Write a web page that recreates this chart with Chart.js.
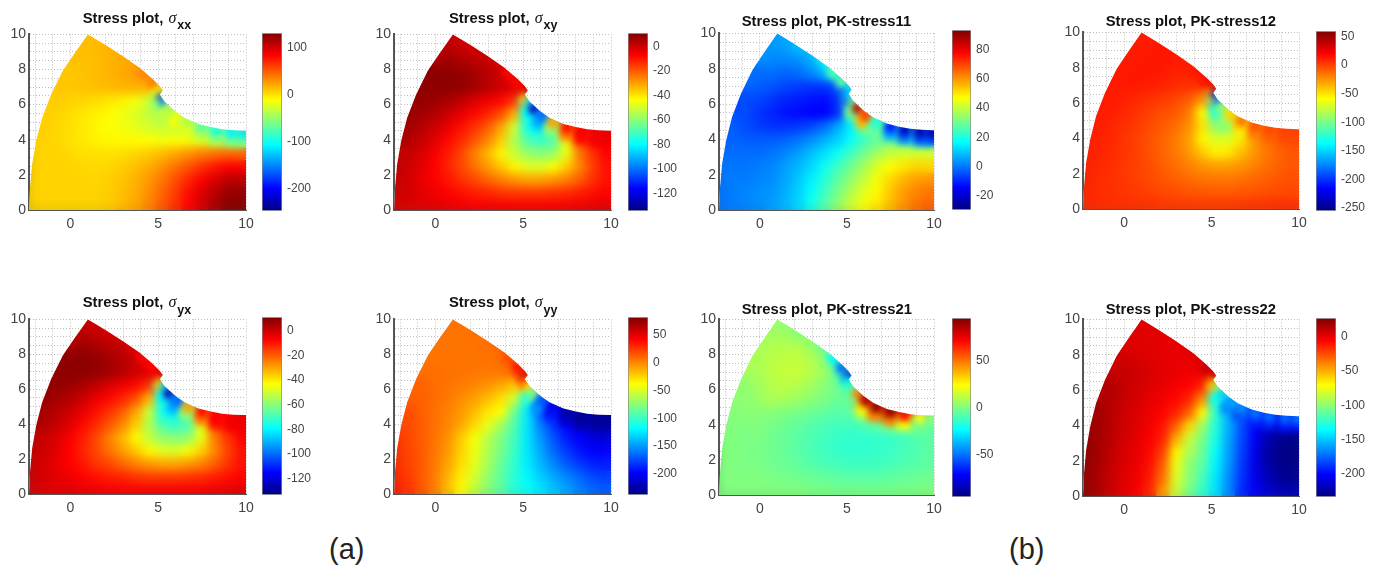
<!DOCTYPE html>
<html>
<head>
<meta charset="utf-8">
<title>Stress plots</title>
<script src="https://cdn.jsdelivr.net/npm/chart.js@4"></script>
<style>
  html, body { margin: 0; background: #fff; overflow: hidden; }
  canvas { position: absolute; }
  .ttl { position: absolute; font: bold 14.8px "Liberation Sans", Arial, sans-serif; line-height: 17px; color: #111; white-space: nowrap; }
  .ttl i { font: italic 16px "Liberation Serif", serif; margin-left: 1px; }
  .ttl sub { font: bold 12.5px "Liberation Sans", Arial, sans-serif; position: relative; top: 3px; left: 1px; vertical-align: sub; line-height: 0; }
  .cap { position: absolute; font: 29px "Liberation Sans", Arial, sans-serif; color: #222; }
</style>
</head>
<body>
<script>
// outline of the plate (x, y), shared by all eight plots
const outlineX = [-2.35,-2.29,-2.17,-1.94,-1.6,-1.09,-0.42,0.3,1,1.96,3,3.96,4.72,5.1,5.27,5.1,5.35,5.96,6.5,7.3,8,8.65,9.3,10,10];
const outlineY = [0,1.29,2.62,3.94,5.26,6.58,7.94,9,10,9.42,8.75,8.09,7.43,7.05,6.81,6.58,6.2,5.64,5.25,4.9,4.72,4.6,4.54,4.52,0];

// coarse sample positions
const gridX = [-2.25,-1.5,-0.75,0,0.75,1.5,2.25,3,3.75,4.5,5.25,6,6.75,7.5,8.25,9,9.75];
const gridY = [0.25,1,1.75,2.5,3.25,4,4.75,5.5,6.25,7,7.75,8.5,9.25,10];
const rowFirstCol = [0,0,0,0,0,1,1,2,2,3,3,4,4,4];

// fine sample positions, along the notch and the concave edge
const fineX = [4.2,4.7,5.05,4.85,4.95,5.1,5.3,5.6,6.1,6.7,7.5,8.3,9.2,9.9,5.3,5.9,6.6,7.5,8.3,9.2,9.9];
const fineY = [7.8,7.25,6.8,6.6,6.2,6.45,6.1,5.75,5.35,5.0,4.72,4.53,4.42,4.4,5.5,5.0,4.65,4.35,4.15,4.05,4.05];
const fineRadius = [8,8,5,5,5,4,4,7,8,8,8,8,8,8,8,9,10,10,10,10,10];
// inner row goes down first so the edge row stays on top
const fineOrder = [14,15,16,17,18,19,20,0,1,2,3,4,5,6,7,8,9,10,11,12,13];

// values, rows from bottom to top
const sxx = [
  [6,6,6,6,6,6,8,14,22,34,50,66,84,100,116,128,128],
  [6,6,6,6,6,6,8,13,20,32,46,62,80,96,110,122,124],
  [6,6,6,6,5,5,7,11,18,27,40,55,70,85,98,108,110],
  [6,6,6,5,4,3,5,8,13,20,30,42,54,66,76,84,86],
  [6,6,5,3,1,0,0,2,5,9,15,22,30,37,42,46,46],
  [6,4,1,-3,-6,-8,-9,-10,-12,-14,-12,-14,-20,-30,-40,-45],
  [7,5,1,-3,-8,-12,-15,-20,-26,-32,-34,-40,-55,-75,-95],
  [6,2,-2,-6,-10,-16,-24,-34,-44,-50],
  [8,6,4,2,-2,-6,-14,-30,-90],
  [10,11,13,15,17,18,15,5],
  [10,12,14,17,21,25,28],
  [12,14,17,20,25],
  [13,15,18],
  [13,14]
];
const sxxFine = [34,36,5,-20,-50,-210,-180,-40,-20,-40,-70,-95,-110,-115,-30,-15,-18,-35,-50,-62,-65];

const sxy = [
  [-1,-2,-3,-3,-4,-5,-6,-6,-6,-6,-6,-6,-6,-6,-5,-4,-3],
  [0,-1,-3,-5,-7,-9,-11,-12,-14,-15,-15,-15,-14,-13,-11,-9,-7],
  [1,-1,-4,-7,-10,-14,-17,-21,-25,-28,-30,-30,-28,-25,-20,-14,-9],
  [2,0,-3,-7,-12,-17,-23,-29,-35,-42,-47,-48,-44,-36,-26,-16,-9],
  [2,1,-2,-6,-11,-17,-25,-33,-42,-51,-58,-60,-58,-46,-24,-14,-7],
  [4,1,-3,-8,-13,-19,-26,-36,-54,-68,-72,-68,-46,-18,-9,-6],
  [6,3,0,-4,-9,-14,-20,-30,-50,-78,-82,-62,-28,-12,-8],
  [6,4,0,-4,-8,-12,-18,-32,-72,-95],
  [8,7,5,2,-2,-5,-8,-14,-75],
  [9,9,8,6,3,0,-3,-2],
  [9,9,8,6,3,0,-4],
  [7,5,3,1,-3],
  [3,1,-1],
  [1,0]
];
const sxyFine = [-8,-8,-3,-12,-35,-38,-85,-125,-100,-30,-8,-6,-5,-4,-80,-90,-60,-25,-8,-6,-5];
// the stress tensor is symmetric, the two plots look the same
const syx = sxy;
const syxFine = sxyFine;

const syy = [
  [32,26,15,2,-18,-38,-58,-76,-88,-105,-115,-125,-135,-147,-158,-165,-170],
  [30,24,14,3,-14,-33,-52,-72,-88,-105,-120,-132,-145,-155,-165,-175,-178],
  [28,22,14,4,-10,-27,-46,-66,-85,-103,-123,-140,-155,-170,-180,-188,-190],
  [27,21,14,5,-6,-24,-43,-63,-80,-100,-125,-145,-165,-180,-192,-198,-200],
  [26,20,13,6,-3,-22,-40,-60,-78,-97,-125,-150,-172,-190,-200,-208,-210],
  [19,13,7,0,-10,-26,-44,-66,-92,-125,-158,-182,-200,-212,-218,-220],
  [18,12,7,2,-6,-16,-30,-38,-82,-125,-170,-195,-215,-225,-228],
  [12,8,4,-2,-8,-17,-28,-52,-110,-170],
  [11,8,6,3,0,-4,-10,-20,-40],
  [8,7,6,5,4,5,8,30],
  [6,6,6,6,6,8,14],
  [6,6,6,7,10],
  [6,6,7],
  [6,6]
];
const syyFine = [18,35,65,35,8,15,-30,-75,-170,-205,-225,-232,-232,-232,-100,-150,-190,-215,-225,-226,-226];

const pk11 = [
  [0,1,2,3,5,8,12,19,27,34,41,46,50,55,60,64,66],
  [0,1,2,3,4,7,11,17,24,31,38,44,48,54,59,62,64],
  [0,1,1,2,3,6,10,15,21,28,34,40,46,52,56,59,60],
  [0,0,0,1,2,5,8,12,18,24,30,36,43,47,50,52,52],
  [-1,-1,-1,-1,0,2,5,9,13,18,24,30,36,40,42,42,42],
  [-2,-3,-3,-3,-2,0,3,7,11,17,24,28,30,26,20,16],
  [-3,-5,-7,-8,-8,-7,-5,-1,6,15,30,34,22,8,-4],
  [-5,-8,-10,-12,-13,-14,-14,-9,26,58],
  [-5,-6,-8,-10,-11,-12,-13,-8,30],
  [-3,-4,-6,-7,-8,-8,-4,8],
  [-1,-1,-2,-1,2,8,20],
  [2,2,3,7,18],
  [4,5,9],
  [5,6]
];
const pk11Fine = [26,28,18,0,-4,14,30,85,70,20,-12,-22,-24,-24,30,55,28,6,0,-4,-6];

const pk12 = [
  [7,7,6,5,5,4,3,2,2,2,2,2,3,4,4,5,5],
  [8,7,5,4,2,0,-2,-4,-6,-7,-8,-8,-7,-6,-4,-3,-2],
  [9,7,5,3,0,-3,-6,-10,-13,-16,-17,-17,-15,-12,-9,-6,-4],
  [10,8,6,3,0,-4,-9,-14,-20,-26,-29,-29,-26,-20,-14,-9,-6],
  [11,9,7,4,0,-5,-11,-18,-27,-42,-55,-52,-38,-26,-16,-10,-6],
  [10,8,4,0,-5,-11,-18,-30,-56,-70,-68,-52,-26,-14,-8,-4],
  [11,9,6,2,-3,-8,-14,-24,-50,-95,-100,-60,-22,-10,-3],
  [11,8,4,0,-4,-8,-18,-58,-115,-70],
  [12,10,8,5,2,-2,-8,-25,-170],
  [12,12,11,9,7,5,4,5],
  [12,13,13,12,10,10,12],
  [12,13,13,12,12],
  [12,12,13],
  [11,11]
];
const pk12Fine = [12,16,40,-30,-60,-230,-180,-90,-45,-15,-5,-2,0,0,-120,-90,-50,-20,-10,-4,-3];

const pk21 = [
  [0,0,0,0,0,0,0,-1,-1,-2,-2,-2,-2,-2,-1,-1,0],
  [0,0,0,0,-1,-2,-3,-4,-5,-6,-7,-7,-7,-6,-5,-4,-3],
  [0,0,-1,-1,-3,-4,-6,-8,-10,-11,-12,-12,-12,-11,-9,-8,-6],
  [0,0,-1,-2,-3,-5,-7,-10,-12,-14,-15,-15,-14,-13,-11,-9,-7],
  [1,0,-1,-1,-3,-5,-7,-10,-12,-14,-15,-15,-15,-14,-12,-9,-7],
  [0,0,0,-2,-4,-6,-8,-10,-12,-12,-10,-6,0,4,-2,-5],
  [1,2,2,1,0,-2,-4,-6,-8,-6,18,55,85,85,60],
  [2,5,8,7,5,2,-1,-4,-6,70],
  [3,6,10,11,9,6,2,-4,-12],
  [8,11,13,13,10,5,-8,-40],
  [8,11,12,12,9,3,-10],
  [9,10,9,4,-6],
  [6,5,1],
  [4,3]
];
const pk21Fine = [-24,-50,-85,-35,-15,-25,-5,45,85,92,90,70,20,2,-4,22,45,45,22,-2,-6];

const pk22 = [
  [22,16,8,2,-4,-15,-45,-85,-105,-122,-142,-165,-190,-203,-212,-218,-220],
  [22,16,9,3,-2,-12,-35,-80,-100,-118,-142,-165,-188,-205,-218,-226,-228],
  [23,17,10,4,-1,-9,-30,-75,-100,-112,-138,-162,-186,-207,-222,-230,-230],
  [23,18,11,5,0,-7,-22,-68,-92,-108,-135,-160,-184,-206,-224,-232,-232],
  [23,18,12,6,1,-5,-14,-50,-85,-105,-130,-158,-182,-204,-220,-228,-230],
  [19,13,7,3,-3,-10,-30,-60,-95,-127,-156,-180,-200,-215,-222,-225],
  [19,13,7,4,-1,-6,-14,-30,-70,-125,-155,-175,-190,-195,-198],
  [14,9,5,1,-3,-7,-15,-42,-125,-150],
  [14,10,6,3,0,-3,-6,-15,-85],
  [9,7,4,2,0,-2,-3,5],
  [7,5,3,1,0,0,2],
  [3,2,0,0,1],
  [2,2,2],
  [3,3]
];
const pk22Fine = [3,8,15,-20,-50,-60,-110,-145,-160,-165,-170,-172,-172,-170,-130,-165,-180,-190,-192,-195,-195];

// colorbar limits and tick labels
const sxxRange = [-247,131],  sxxTicks = [-200,-100,0,100];
const sxyRange = [-134,11],   sxyTicks = [-120,-100,-80,-60,-40,-20,0];
const syxRange = [-133,11],   syxTicks = [-120,-100,-80,-60,-40,-20,0];
const syyRange = [-238,82],   syyTicks = [-200,-150,-100,-50,0,50];
const pk11Range = [-29.3,93], pk11Ticks = [-20,0,20,40,60,80];
const pk12Range = [-254.6,59],pk12Ticks = [-250,-200,-150,-100,-50,0,50];
const pk21Range = [-95,94.7], pk21Ticks = [-50,0,50];
const pk22Range = [-233,27],  pk22Ticks = [-200,-150,-100,-50,0];

// layout: plot box, colorbar box, title spot
const panels = [
  { v: sxx, f: sxxFine, r: sxxRange, t: sxxTicks, l: 28.5, w: 216.5, top: 33, h: 176.5, cl: 262, cw: 20, ct: 33, ch: 176.5, tx: 82.7, ty: 8.5, title: ['', 'xx'] },
  { v: sxy, f: sxyFine, r: sxyRange, t: sxyTicks, l: 394, w: 216.7, top: 33, h: 176.5, cl: 627.7, cw: 20, ct: 33, ch: 176.5, tx: 449, ty: 8.5, title: ['', 'xy'] },
  { v: pk11, f: pk11Fine, r: pk11Range, t: pk11Ticks, l: 719, w: 215.3, top: 31.7, h: 177.6, cl: 951.7, cw: 19.3, ct: 30.3, ch: 179, tx: 741.7, ty: 13, title: ['PK-stress11'] },
  { v: pk12, f: pk12Fine, r: pk12Range, t: pk12Ticks, l: 1082.7, w: 216.3, top: 31, h: 178.3, cl: 1316, cw: 19.7, ct: 30.7, ch: 178.6, tx: 1105.7, ty: 13, title: ['PK-stress12'] },
  { v: syx, f: syxFine, r: syxRange, t: syxTicks, l: 28.5, w: 216.5, top: 318.3, h: 176, cl: 262, cw: 20, ct: 317.3, ch: 177, tx: 82.7, ty: 293, title: ['', 'yx'] },
  { v: syy, f: syyFine, r: syyRange, t: syyTicks, l: 394, w: 216.7, top: 318.3, h: 176, cl: 627.7, cw: 20, ct: 317.3, ch: 177, tx: 449, ty: 293, title: ['', 'yy'] },
  { v: pk21, f: pk21Fine, r: pk21Range, t: pk21Ticks, l: 719, w: 215.3, top: 318.3, h: 177.4, cl: 951.7, cw: 19.3, ct: 317.7, ch: 178.3, tx: 741.7, ty: 300.8, title: ['PK-stress21'] },
  { v: pk22, f: pk22Fine, r: pk22Range, t: pk22Ticks, l: 1082.7, w: 216.3, top: 318.3, h: 177.7, cl: 1316, cw: 19.7, ct: 318.3, ch: 177.7, tx: 1105.7, ty: 300.8, title: ['PK-stress22'] }
];

const FONT = '"Liberation Sans", Arial, sans-serif';
const INK = '#444';

// matlab jet
function jet(t) {
  const c = k => Math.round(255 * Math.max(0, Math.min(1, 1.5 - Math.abs(4 * t - k))));
  return `rgb(${c(3)},${c(2)},${c(1)})`;
}

function addCanvas(left, top, w, h) {
  const c = document.createElement('canvas');
  c.width = w; c.height = h;
  c.style.cssText = `left:${left}px;top:${top}px;width:${w}px;height:${h}px`;
  document.body.appendChild(c);
  return c;
}

function copyOf(canvas) {
  const c = document.createElement('canvas');
  c.width = canvas.width; c.height = canvas.height;
  c.getContext('2d').drawImage(canvas, 0, 0);
  return c;
}

// datasets draw last to first: pad, coarse, fine.
// blur the coarse cells in place, then put the grid back outside the plate
const softCells = {
  id: 'softCells',
  beforeDatasetsDraw(chart) { chart.$under = copyOf(chart.canvas); },
  beforeDatasetDraw(chart, args) {
    if (args.index === 0) {
      chart.ctx.save();
      chart.ctx.filter = 'blur(3px)';
    }
  },
  afterDatasetDraw(chart, args) {
    const ctx = chart.ctx, a = chart.chartArea;
    if (args.index === 0) ctx.restore();
    if (args.index === 1) {
      const crisp = copyOf(chart.canvas);
      ctx.save();
      ctx.beginPath();
      ctx.rect(a.left, a.top, a.right - a.left, a.bottom - a.top);
      ctx.clip();
      ctx.filter = 'blur(5px)';
      ctx.drawImage(crisp, 0, 0);
      ctx.restore();
    }
  },
  afterDatasetsDraw(chart) {
    const ctx = chart.ctx, sx = chart.scales.x, sy = chart.scales.y;
    ctx.save();
    ctx.beginPath();
    ctx.rect(0, 0, chart.width, chart.height);
    outlineX.forEach((x, i) => {
      const px = sx.getPixelForValue(x), py = sy.getPixelForValue(outlineY[i]);
      if (i) ctx.lineTo(px, py); else ctx.moveTo(px, py);
    });
    ctx.closePath();
    ctx.clip('evenodd');
    ctx.clearRect(0, 0, chart.width, chart.height);
    ctx.drawImage(chart.$under, 0, 0);
    ctx.restore();
  }
};

panels.forEach(p => {
  const [lo, hi] = p.r;
  const color = v => jet((v - lo) / (hi - lo));

  const coarse = [], coarseColors = [];
  p.v.forEach((row, j) => row.forEach((v, i) => {
    coarse.push({ x: gridX[rowFirstCol[j] + i], y: gridY[j] });
    coarseColors.push(color(v));
  }));
  const fine = fineOrder.map(i => ({ x: fineX[i], y: fineY[i] }));

  const padL = 30, padT = 10, padR = 16, padB = 24;
  const left = Math.round(p.l) - padL, top = Math.round(p.top) - padT;
  const w = Math.round(p.w) + padL + padR, h = Math.round(p.h) + padT + padB;

  new Chart(addCanvas(left, top, w, h), {
    type: 'scatter',
    data: {
      datasets: [
        { data: fine, pointStyle: 'rect', pointRadius: fineOrder.map(i => fineRadius[i]), pointBorderWidth: 0, pointBackgroundColor: fineOrder.map(i => color(p.f[i])) },
        { data: coarse, pointStyle: 'rect', pointRadius: 10.2, pointBorderWidth: 0, pointBackgroundColor: coarseColors },
        { data: coarse, pointStyle: 'rect', pointRadius: 24, pointBorderWidth: 0, pointBackgroundColor: coarseColors }
      ]
    },
    options: {
      responsive: false,
      animation: false,
      events: [],
      layout: { autoPadding: false, padding: { top: padT, right: padR, left: 0, bottom: 0 } },
      plugins: { legend: { display: false }, tooltip: { enabled: false } },
      scales: {
        x: {
          type: 'linear', min: -2.35, max: 10,
          afterFit: s => { s.height = padB; },
          grid: { color: '#bdbdbd', drawTicks: false, lineWidth: 1 },
          border: { color: '#555', width: 1, dash: [1, 2] },
          ticks: {
            stepSize: 1, includeBounds: false, autoSkip: false, maxRotation: 0, padding: 6,
            color: INK, font: { family: FONT, size: 14 },
            callback: v => (v % 5 === 0 ? v : '')
          }
        },
        y: {
          min: 0, max: 10,
          afterFit: s => { s.width = padL; },
          grid: { color: '#bdbdbd', drawTicks: false, lineWidth: 1 },
          border: { color: '#555', width: 2, dash: [1, 2] },
          ticks: {
            stepSize: 0.5, autoSkip: false, padding: 3,
            color: INK, font: { family: FONT, size: 14 },
            callback: v => (v % 2 === 0 ? v : '')
          }
        }
      }
    },
    plugins: [softCells]
  });

  // colorbar, the bar chart keeps 4px more than its padding on top and bottom
  const cbPad = 8;
  new Chart(addCanvas(Math.round(p.cl), Math.round(p.ct) - 12, Math.round(p.cw) + 40, Math.round(p.ch) + 25), {
    type: 'bar',
    data: {
      labels: ['bar'],
      datasets: [{
        data: [[lo, hi]],
        barPercentage: 1, categoryPercentage: 1,
        borderColor: '#8a8a8a', borderWidth: 1, borderSkipped: false,
        backgroundColor: c => {
          const a = c.chart.chartArea;
          if (!a) return '#fff';
          const g = c.chart.ctx.createLinearGradient(0, a.bottom, 0, a.top);
          for (let k = 0; k <= 8; k++) g.addColorStop(k / 8, jet(k / 8));
          return g;
        }
      }]
    },
    options: {
      responsive: false,
      animation: false,
      events: [],
      layout: { autoPadding: false, padding: { top: cbPad, bottom: cbPad } },
      plugins: { legend: { display: false }, tooltip: { enabled: false } },
      scales: {
        x: { display: false },
        y: {
          position: 'right', min: lo, max: hi,
          afterFit: s => { s.width = 40; },
          afterBuildTicks: s => { s.ticks = p.t.map(value => ({ value })); },
          grid: { display: false, drawTicks: false },
          border: { display: false },
          ticks: { autoSkip: false, padding: 5, color: INK, font: { family: FONT, size: 12 } }
        }
      }
    }
  });

  // title, sigma ones need a real subscript
  const d = document.createElement('div');
  d.className = 'ttl';
  d.style.left = p.tx + 'px';
  d.style.top = p.ty + 'px';
  d.innerHTML = p.title.length === 2
    ? `Stress plot, <i>σ</i><sub>${p.title[1]}</sub>`
    : `Stress plot, ${p.title[0]}`;
  document.body.appendChild(d);
});

[['(a)', 329], ['(b)', 1009]].forEach(([txt, x]) => {
  const d = document.createElement('div');
  d.className = 'cap';
  d.textContent = txt;
  d.style.left = x + 'px';
  d.style.top = '533px';
  document.body.appendChild(d);
});
</script>
</body>
</html>
